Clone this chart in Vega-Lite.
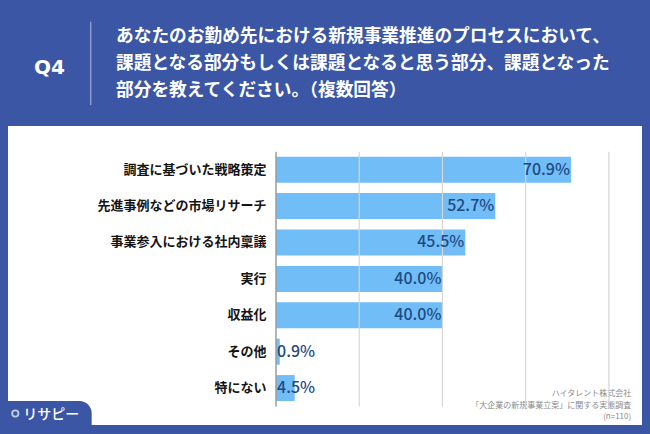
{
  "$schema": "https://vega.github.io/schema/vega-lite/v6.json",
  "width": 634,
  "height": 299,
  "autosize": {"type": "none"},
  "padding": {"left": 8, "top": 126, "right": 8, "bottom": 9},
  "background": "#3b56a4",
  "view": {"fill": "#ffffff", "stroke": null},
  "config": {"font": "Noto Sans CJK JP"},
  "title": {
    "text": ["あなたのお勤め先における新規事業推進のプロセスにおいて、", "課題となる部分もしくは課題となると思う部分、課題となった", "部分を教えてください。（複数回答）"],
    "anchor": "start",
    "frame": "group",
    "dx": 108,
    "offset": -79,
    "color": "#ffffff",
    "fontSize": 17.7,
    "fontWeight": "bold",
    "lineHeight": 27,
    "font": "Noto Sans CJK JP"
  },
  "datasets": {
    "answers": [
      {"item": "調査に基づいた戦略策定", "v": 70.9, "label": "70.9%"},
      {"item": "先進事例などの市場リサーチ", "v": 52.7, "label": "52.7%"},
      {"item": "事業参入における社内稟議", "v": 45.5, "label": "45.5%"},
      {"item": "実行", "v": 40.0, "label": "40.0%"},
      {"item": "収益化", "v": 40.0, "label": "40.0%"},
      {"item": "その他", "v": 0.9, "label": "0.9%"},
      {"item": "特にない", "v": 4.5, "label": "4.5%"}
    ],
    "grid": [{"g": 20}, {"g": 40}, {"g": 60}, {"g": 80}],
    "zero": [{"g": 0}],
    "brand": [{"name": "リサピー"}]
  },
  "layer": [
    {
      "data": {"name": "answers"},
      "mark": {"type": "bar", "color": "#71bdf7"},
      "encoding": {
        "y": {
          "field": "item",
          "type": "nominal",
          "sort": null,
          "scale": {
            "domain": ["調査に基づいた戦略策定", "先進事例などの市場リサーチ", "事業参入における社内稟議", "実行", "収益化", "その他", "特にない"],
            "paddingInner": 0.286,
            "paddingOuter": 0.75,
            "align": 0.562
          },
          "axis": {
            "orient": "left",
            "offset": -268,
            "domain": false,
            "ticks": false,
            "grid": false,
            "labelPadding": 10,
            "labelFontSize": 13,
            "labelFontWeight": "bold",
            "labelColor": "#141414",
            "labelFont": "Noto Sans CJK JP",
            "labelLimit": 300,
            "title": "Q4",
            "titleAngle": 0,
            "titleAlign": "center",
            "titleBaseline": "middle",
            "titleX": -227,
            "titleY": -58.4,
            "titleFontSize": 20,
            "titleFontWeight": "bold",
            "titleColor": "#ffffff",
            "titleFont": "DejaVu Sans"
          }
        },
        "x": {
          "field": "v",
          "type": "quantitative",
          "scale": {"domain": [-64.41, 87.96], "nice": false, "zero": false},
          "axis": {
            "orient": "bottom",
            "labels": false,
            "ticks": false,
            "domain": false,
            "grid": false,
            "title": ["ハイタレント株式会社", "「大企業の新規事業立案」に関する実態調査", "(n=110)"],
            "titleAlign": "right",
            "titleBaseline": "bottom",
            "titleX": 622.7,
            "titleY": -27.5,
            "titleFontSize": 8,
            "titleFontWeight": "normal",
            "titleColor": "#8a8a8a",
            "titleLineHeight": 11.7,
            "titleFont": "Noto Sans CJK JP"
          }
        }
      }
    },
    {
      "data": {"name": "grid"},
      "mark": {"type": "rule", "color": "#d6d6d6", "strokeWidth": 1.2},
      "encoding": {
        "x": {"field": "g", "type": "quantitative"},
        "y": {"datum": "調査に基づいた戦略策定", "type": "nominal", "bandPosition": -0.19},
        "y2": {"datum": "特にない", "bandPosition": 1.21}
      }
    },
    {
      "data": {"name": "zero"},
      "mark": {"type": "rule", "color": "#9c9c9c", "strokeWidth": 1.5},
      "encoding": {
        "x": {"field": "g", "type": "quantitative"},
        "y": {"datum": "調査に基づいた戦略策定", "type": "nominal", "bandPosition": -0.19},
        "y2": {"datum": "特にない", "bandPosition": 1.21}
      }
    },
    {
      "data": {"name": "answers"},
      "transform": [{"filter": "datum.v >= 10"}],
      "mark": {"type": "text", "align": "right", "baseline": "middle", "dx": -1, "fontSize": 16, "fontWeight": 500, "color": "#1f4b82", "font": "Noto Sans CJK JP"},
      "encoding": {
        "y": {"field": "item", "type": "nominal", "sort": null},
        "x": {"field": "v", "type": "quantitative"},
        "text": {"field": "label"}
      }
    },
    {
      "data": {"name": "answers"},
      "transform": [{"filter": "datum.v < 10"}],
      "mark": {"type": "text", "align": "left", "baseline": "middle", "dx": 1, "fontSize": 16, "fontWeight": 500, "color": "#1f4b82", "font": "Noto Sans CJK JP"},
      "encoding": {
        "y": {"field": "item", "type": "nominal", "sort": null},
        "x": {"datum": 0, "type": "quantitative"},
        "text": {"field": "label"}
      }
    },
    {
      "data": {"name": "zero"},
      "mark": {"type": "rule", "color": "#9aa9d6", "strokeWidth": 1.2},
      "encoding": {
        "x": {"datum": -44.53, "type": "quantitative"},
        "y": {"datum": "調査に基づいた戦略策定", "type": "nominal", "bandPosition": -5.19},
        "y2": {"datum": "調査に基づいた戦略策定", "bandPosition": -1.99}
      }
    },
    {
      "data": {"name": "brand"},
      "mark": {"type": "rect", "color": "#3b56a4", "cornerRadiusTopRight": 14},
      "encoding": {
        "x": {"datum": -64.41, "type": "quantitative"},
        "x2": {"datum": -44.3},
        "y": {"datum": "特にない", "type": "nominal", "bandPosition": 1.0},
        "y2": {"datum": "特にない", "bandPosition": 1.95}
      }
    },
    {
      "data": {"name": "brand"},
      "mark": {"type": "point", "shape": "circle", "filled": false, "stroke": "#ffffff", "strokeWidth": 1.8, "size": 40},
      "encoding": {
        "x": {"datum": -62.65, "type": "quantitative"},
        "y": {"datum": "特にない", "type": "nominal", "bandPosition": 1.48}
      }
    },
    {
      "data": {"name": "brand"},
      "mark": {"type": "text", "align": "left", "baseline": "middle", "fontSize": 14, "fontWeight": 500, "color": "#ffffff", "font": "Noto Sans CJK JP"},
      "encoding": {
        "x": {"datum": -60.73, "type": "quantitative"},
        "y": {"datum": "特にない", "type": "nominal", "bandPosition": 1.535},
        "text": {"field": "name"}
      }
    }
  ]
}
